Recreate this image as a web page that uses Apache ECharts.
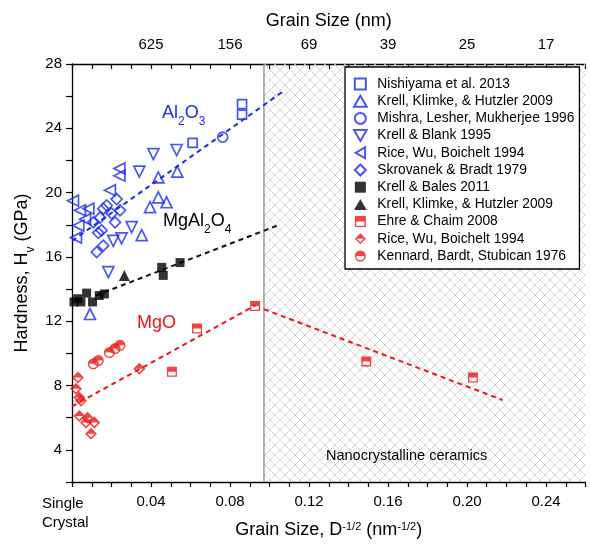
<!DOCTYPE html>
<html>
<head>
<meta charset="utf-8">
<script src="https://cdn.jsdelivr.net/npm/echarts@6/dist/echarts.min.js"></script>
<style>
html, body { margin: 0; padding: 0; background: #fff; }
#chart { width: 590px; height: 545px; }
</style>
</head>
<body>
<div id="chart"></div>
<script>
// values: [D^-1/2 (nm^-1/2), Hv (GPa)]
const nishiyama = [[0.0861, 25.5], [0.0861, 24.85], [0.0611, 23.1]];
const krellKlimkeAl = [[0.0437, 20.95], [0.0533, 21.3], [0.0437, 19.7], [0.0395, 19.1], [0.0479, 19.4], [0.0353, 17.35], [0.0091, 12.45]];
const mishra = [[0.0763, 23.45]];
const krellBlank = [[0.0412, 22.4], [0.053, 22.65], [0.0341, 21.3], [0.0302, 17.85], [0.0251, 17.15], [0.0209, 17.0], [0.0184, 15.05]];
const riceAl = [[0.0005, 19.5], [0.0083, 19.0], [0.004, 18.9], [0.0032, 17.95], [0.002, 17.2], [0.0066, 18.35], [0.0192, 20.15], [0.024, 21.5], [0.024, 21.05]];
const skrovanek = [[0.0226, 19.6], [0.0243, 18.9], [0.0158, 19.0], [0.0142, 18.45], [0.0108, 18.15], [0.015, 17.65], [0.0133, 17.5], [0.0201, 18.7], [0.0158, 16.7], [0.0125, 16.3], [0.0176, 19.2], [0.0218, 18.15]];
const krellBales = [[0.001, 13.2], [0.0029, 13.4], [0.0045, 13.2], [0.0074, 13.75], [0.0104, 13.2], [0.0138, 13.6], [0.0164, 13.7], [0.0454, 15.35], [0.0462, 14.85], [0.0547, 15.65]];
const krellKlimkeSp = [[0.0265, 14.85]];
const ehreChaim = [[0.0506, 8.85], [0.0633, 11.55], [0.0927, 12.95], [0.149, 9.5], [0.203, 8.5]];
const riceMgO = [[0.003, 8.5], [0.002, 7.8], [0.0037, 7.25], [0.0046, 7.05], [0.0037, 6.1], [0.0079, 6.0], [0.0113, 5.7], [0.0071, 5.7], [0.0096, 5.0], [0.0341, 9.05]];
const kennard = [[0.0108, 9.35], [0.0133, 9.55], [0.0189, 10.05], [0.0218, 10.3], [0.0243, 10.5]];

// dashed trend lines
const al2o3Trend = [[0.0, 17.0], [0.107, 26.3]];
const spinelTrend = [[0.012, 13.6], [0.105, 18.0]];
const mgoTrend = [[0.0, 6.7], [0.093, 13.0]];
const mgoNanoTrend = [[0.0972, 12.75], [0.218, 7.1]];

// nanocrystalline region (D < ~100 nm)
const nanoStart = 0.0972;
const xMax = 0.26;
const yMin = 2;
const yMax = 28;
const nanoBorder = [[nanoStart, yMin], [nanoStart, yMax]];

const bottomLabels = ['Single\nCrystal', '0.04', '0.08', '0.12', '0.16', '0.20', '0.24'];
const topLabels = ['', '625', '156', '69', '39', '25', '17'];
const yLabels = [4, 8, 12, 16, 20, 24, 28];

const BLUE = '#1a2cf0';
const RED = '#f01414';
const FONT = 'Liberation Sans, Arial, sans-serif';

const SYM = {
  square: 'path://M0,0L20,0L20,20L0,20Z',
  diamond: 'path://M10,0L20,10L10,20L0,10Z',
  down: 'path://M0,0L20,0L10,17.32Z',
  up: 'path://M10,0L20,17.32L0,17.32Z',
  left: 'path://M0,10L17.32,0L17.32,20Z',
  halfSquare: 'path://M0,0L20,0L20,20L0,20Z M2.6,2.6L2.6,17.4L17.4,17.4L17.4,2.6Z M2.6,2.6L17.4,2.6L17.4,10L2.6,10Z',
  halfDiamond: 'path://M10,0L20,10L10,20L0,10Z M10,3.7L3.7,10L10,16.3L16.3,10Z M10,3.7L16.3,10L3.7,10Z',
  halfCircle: 'path://M0,10A10,10,0,1,1,20,10A10,10,0,1,1,0,10Z M2.6,10A7.4,7.4,0,1,0,17.4,10A7.4,7.4,0,1,0,2.6,10Z M2.6,10A7.4,7.4,0,0,1,17.4,10Z'
};

function hollow(name, data, symbol, size) {
  return {
    name: name, type: 'scatter', data: data, symbol: symbol, symbolSize: size, clip: false,
    itemStyle: { color: 'rgba(255,255,255,0)', borderColor: BLUE, borderWidth: 1.7 },
    emphasis: { disabled: true }, z: 4
  };
}
function solid(name, data, symbol, size, color) {
  return {
    name: name, type: 'scatter', data: data, symbol: symbol, symbolSize: size, clip: false,
    itemStyle: { color: color, borderWidth: 0 },
    emphasis: { disabled: true }, z: 4
  };
}
function trend(data, color) {
  return {
    type: 'line', data: data, showSymbol: false, symbol: 'none', silent: true, z: 3,
    lineStyle: { color: color, width: 2, type: [5, 4] }
  };
}

// cross-hatch for nanocrystalline region
const pat = document.createElement('canvas');
pat.width = 10; pat.height = 10;
const pc = pat.getContext('2d');
pc.strokeStyle = '#cdcdcd';
pc.lineWidth = 0.8;
pc.beginPath();
pc.moveTo(0, 0); pc.lineTo(10, 10);
pc.moveTo(10, 0); pc.lineTo(0, 10);
pc.stroke();

const legendNames = [
  'Nishiyama et al. 2013', 'Krell, Klimke, & Hutzler 2009', 'Mishra, Lesher, Mukherjee 1996',
  'Krell & Blank 1995', 'Rice, Wu, Boichelt 1994', 'Skrovanek & Bradt 1979', 'Krell & Bales 2011',
  'Krell, Klimke, & Hutzler 2009 ', 'Ehre & Chaim 2008', 'Rice, Wu, Boichelt 1994 ', 'Kennard, Bardt, Stubican 1976'
];

const axisLine = { show: true, lineStyle: { color: '#000', width: 1.3 } };
const tickStyle = { color: '#000', width: 1.2 };
const labelFont = { fontFamily: FONT, fontSize: 15, color: '#000' };

const chart = echarts.init(document.getElementById('chart'));
chart.setOption({
  backgroundColor: '#fff',
  animation: false,
  grid: { left: 72, right: 4.5, top: 64, bottom: 63, outerBoundsMode: 'none', containLabel: false },
  xAxis: [
    {
      type: 'value', position: 'bottom', min: 0, max: xMax, interval: 0.01,
      axisLine: axisLine,
      axisTick: { inside: false, length: 5, lineStyle: tickStyle },
      splitLine: { show: false },
      axisLabel: Object.assign({}, labelFont, {
        margin: 12,
        formatter: function (v) {
          const k = Math.round(v / 0.01);
          if (k % 4 !== 0) return '';
          if (k === 0) return '{sc|Single}\n{sc|Crystal}';
          return bottomLabels[k / 4] || '';
        },
        rich: { sc: { fontFamily: FONT, fontSize: 15, width: 60, align: 'left', lineHeight: 19 } }
      }),
      name: '{n|Grain Size, D}{p|-1/2}{n| (nm}{p|-1/2}{n|)}',
      nameLocation: 'middle', nameGap: 39, nameMoveOverlap: false,
      nameTextStyle: {
        fontFamily: FONT, fontSize: 18, color: '#000',
        rich: {
          n: { fontFamily: FONT, fontSize: 18, lineHeight: 22, verticalAlign: 'top' },
          p: { fontFamily: FONT, fontSize: 11, lineHeight: 11, verticalAlign: 'top' }
        }
      }
    },
    {
      type: 'value', position: 'top', min: 0, max: xMax, interval: 0.01,
      axisLine: axisLine,
      axisTick: { inside: true, length: 5, lineStyle: tickStyle },
      splitLine: { show: false },
      axisLabel: Object.assign({}, labelFont, {
        margin: 12,
        formatter: function (v) {
          const k = Math.round(v / 0.01);
          if (k % 4 !== 0) return '';
          return topLabels[k / 4] || '';
        }
      }),
      name: 'Grain Size (nm)', nameLocation: 'middle', nameGap: 34, nameMoveOverlap: false,
      nameTextStyle: { fontFamily: FONT, fontSize: 18, color: '#000' }
    }
  ],
  yAxis: {
    type: 'value', min: yMin, max: yMax, interval: 2,
    axisLine: axisLine,
    axisTick: { inside: false, length: 6, lineStyle: tickStyle },
    splitLine: { show: false },
    axisLabel: Object.assign({}, labelFont, {
      margin: 10,
      formatter: function (v) { return yLabels.indexOf(Math.round(v)) >= 0 ? String(Math.round(v)) : ''; }
    }),
    name: '{n|Hardness, H}{s|v}{n| (GPa)}',
    nameLocation: 'middle', nameGap: 37, nameRotate: 90, nameMoveOverlap: false,
    nameTextStyle: {
      fontFamily: FONT, fontSize: 18, color: '#000',
      rich: {
        n: { fontFamily: FONT, fontSize: 18, lineHeight: 22, verticalAlign: 'top' },
        s: { fontFamily: FONT, fontSize: 12, lineHeight: 12, padding: [12, 0, 0, 0], verticalAlign: 'top' }
      }
    }
  },
  legend: {
    data: legendNames,
    orient: 'vertical', left: 345, top: 67,
    padding: [10, 5, 6, 8],
    itemWidth: 24, itemHeight: 11, itemGap: 3.2,
    borderColor: '#000', borderWidth: 1.3, backgroundColor: '#fff',
    selectedMode: false,
    textStyle: { fontFamily: FONT, fontSize: 13.8, color: '#000' },
    z: 10
  },
  graphic: [
    {
      type: 'text', left: 162, top: 104, z: 20,
      style: {
        text: '{a|Al}{b|2}{a|O}{b|3}',
        rich: {
          a: { fontFamily: FONT, fontSize: 18, lineHeight: 22, verticalAlign: 'top', fill: BLUE },
          b: { fontFamily: FONT, fontSize: 12, lineHeight: 12, padding: [12, 0, 0, 0], verticalAlign: 'top', fill: BLUE }
        }
      }
    },
    {
      type: 'text', left: 163, top: 212, z: 20,
      style: {
        text: '{a|MgAl}{b|2}{a|O}{b|4}',
        rich: {
          a: { fontFamily: FONT, fontSize: 18, lineHeight: 22, verticalAlign: 'top', fill: '#000' },
          b: { fontFamily: FONT, fontSize: 12, lineHeight: 12, padding: [12, 0, 0, 0], verticalAlign: 'top', fill: '#000' }
        }
      }
    },
    {
      type: 'text', left: 137, top: 314, z: 20,
      style: { text: 'MgO', fontFamily: FONT, fontSize: 18, fill: RED }
    },
    {
      type: 'text', left: 326, top: 448, z: 20,
      style: { text: 'Nanocrystalline ceramics', fontFamily: FONT, fontSize: 14.5, fill: '#000' }
    }
  ],
  series: [
    {
      type: 'line', data: nanoBorder, silent: true, z: 1, showSymbol: false, symbol: 'none',
      lineStyle: { color: '#8a8a8a', width: 1.3, type: 'solid' },
      markArea: {
        silent: true,
        itemStyle: { color: { image: pat, repeat: 'repeat' } },
        data: [[{ xAxis: nanoStart, yAxis: yMin }, { xAxis: xMax, yAxis: yMax }]]
      }
    },
    trend(al2o3Trend, BLUE),
    trend(spinelTrend, '#111'),
    trend(mgoTrend, RED),
    trend(mgoNanoTrend, RED),
    hollow(legendNames[0], nishiyama, SYM.square, 9),
    hollow(legendNames[1], krellKlimkeAl, SYM.up, 11),
    hollow(legendNames[2], mishra, 'circle', 10),
    hollow(legendNames[3], krellBlank, SYM.down, 11),
    hollow(legendNames[4], riceAl, SYM.left, 11),
    hollow(legendNames[5], skrovanek, SYM.diamond, 11),
    solid(legendNames[6], krellBales, SYM.square, 9, '#000'),
    solid(legendNames[7], krellKlimkeSp, SYM.up, 11, '#000'),
    solid(legendNames[8], ehreChaim, SYM.halfSquare, 10, RED),
    solid(legendNames[9], riceMgO, SYM.halfDiamond, 12, RED),
    solid(legendNames[10], kennard, SYM.halfCircle, 11, RED)
  ]
});
</script>
</body>
</html>
